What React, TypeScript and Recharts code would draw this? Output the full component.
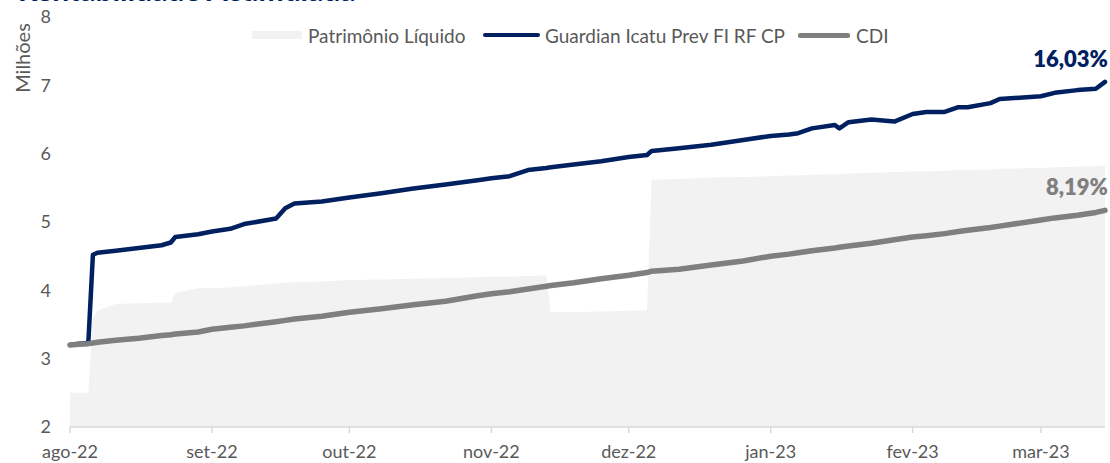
import React from "react";
import { ComposedChart, Area, Line, XAxis, YAxis } from "recharts";

// dias contados a partir de 01/08/2022
const days = [
  0, 2, 4, 5, 6, 10, 15, 20, 22, 23, 28, 31, 35, 38, 45, 47, 49, 55, 61, 68,
  75, 82, 89, 92, 96, 100, 104, 105, 110, 116, 122, 126, 127, 133, 140, 147,
  153, 157, 159, 162, 167, 168, 170, 175, 180, 184, 187, 191, 194, 196, 201,
  203, 212, 215, 220, 224, 226,
];

const guardian = [
  3.2, 3.22, 3.23, 4.52, 4.55, 4.58, 4.62, 4.66, 4.7, 4.78, 4.82, 4.86, 4.9,
  4.97, 5.05, 5.2, 5.27, 5.3, 5.36, 5.42, 5.49, 5.55, 5.61, 5.64, 5.67, 5.76,
  5.79, 5.8, 5.84, 5.89, 5.95, 5.98, 6.04, 6.08, 6.13, 6.2, 6.26, 6.28, 6.3,
  6.37, 6.42, 6.37, 6.46, 6.5, 6.47, 6.58, 6.61, 6.61, 6.68, 6.68, 6.74, 6.8,
  6.84, 6.89, 6.93, 6.95, 7.05,
];

const cdi = [
  3.2, 3.21, 3.22, 3.23, 3.24, 3.27, 3.3, 3.34, 3.35, 3.36, 3.39, 3.43, 3.46,
  3.48, 3.54, 3.56, 3.58, 3.62, 3.68, 3.73, 3.79, 3.84, 3.92, 3.95, 3.98, 4.02,
  4.06, 4.07, 4.11, 4.17, 4.22, 4.26, 4.28, 4.31, 4.37, 4.43, 4.5, 4.53, 4.55,
  4.58, 4.62, 4.63, 4.65, 4.69, 4.74, 4.78, 4.8, 4.83, 4.86, 4.88, 4.92, 4.94,
  5.03, 5.06, 5.1, 5.14, 5.17,
];

const patrimonio = [
  2.5, 2.5, 2.5, 3.6, 3.7, 3.8, 3.81, 3.82, 3.82, 3.96, 4.03, 4.03, 4.04, 4.06,
  4.1, 4.11, 4.12, 4.13, 4.15, 4.16, 4.17, 4.18, 4.19, 4.2, 4.2, 4.21, 4.22,
  3.68, 3.68, 3.69, 3.7, 3.71, 5.62, 5.63, 5.65, 5.66, 5.67, 5.68, 5.68, 5.69,
  5.7, 5.7, 5.71, 5.72, 5.73, 5.74, 5.74, 5.75, 5.76, 5.76, 5.77, 5.78, 5.79,
  5.8, 5.81, 5.82, 5.83,
];

const monthTicks = [0, 31, 61, 92, 122, 153, 184, 212];
const monthLabels = ["ago-22", "set-22", "out-22", "nov-22", "dez-22", "jan-23", "fev-23", "mar-23"];
const yTicks = [2, 3, 4, 5, 6, 7, 8];

const endLabels = { guardian: "16,03%", cdi: "8,19%" };

const data = days.map((d, i) => ({
  d,
  pl: patrimonio[i],
  guardian: guardian[i],
  cdi: cdi[i],
}));

const NAVY = "#002060";
const GRAY = "#7f7f7f";
const PL_FILL = "#f2f2f2";
const TEXT = "#595959";
const FONT = "Lato, 'Open Sans', sans-serif";

const makeEndLabel = (text: string, color: string) => (props: any) => {
  const { x, y, index } = props;
  if (index !== data.length - 1) return null;
  return (
    <text
      x={x + 3}
      y={y - 15}
      textAnchor="end"
      fill={color}
      fontSize={22}
      fontWeight={800}
      fontFamily={FONT}
    >
      {text}
    </text>
  );
};

function ChartLegend() {
  const item: React.CSSProperties = {
    position: "absolute",
    top: 0,
    display: "flex",
    alignItems: "center",
    whiteSpace: "nowrap",
    height: 22,
  };
  return (
    <div
      style={{
        position: "absolute",
        left: 0,
        top: 24,
        width: 1110,
        height: 22,
        fontFamily: FONT,
        fontSize: 19,
        color: TEXT,
      }}
    >
      <div style={{ ...item, left: 252 }}>
        <span style={{ width: 50, height: 8, background: PL_FILL, marginRight: 6 }} />
        Patrimônio Líquido
      </div>
      <div style={{ ...item, left: 483 }}>
        <span style={{ width: 57, height: 4, background: NAVY, borderRadius: 2, marginRight: 5 }} />
        Guardian Icatu Prev FI RF CP
      </div>
      <div style={{ ...item, left: 798 }}>
        <span style={{ width: 52, height: 5, background: GRAY, borderRadius: 2, marginRight: 6 }} />
        CDI
      </div>
    </div>
  );
}

export default function App() {
  return (
    <div
      style={{
        position: "absolute",
        left: 0,
        top: 0,
        width: 1110,
        height: 463,
        overflow: "hidden",
        background: "#fff",
        fontFamily: FONT,
      }}
    >
      <div
        style={{
          position: "absolute",
          left: 18,
          top: -26,
          fontSize: 30,
          lineHeight: "30px",
          fontWeight: 700,
          color: NAVY,
          whiteSpace: "nowrap",
        }}
      >
        Rentabilidade Acumulada
      </div>
      <div
        style={{
          position: "absolute",
          left: 22,
          top: 58,
          transform: "translate(-50%, -50%) rotate(-90deg)",
          fontSize: 20,
          color: TEXT,
          whiteSpace: "nowrap",
        }}
      >
        Milhões
      </div>
      <ComposedChart
        width={1110}
        height={463}
        data={data}
        margin={{ top: 17, right: 5, bottom: 0, left: 0 }}
      >
        <XAxis
          dataKey="d"
          type="number"
          domain={[0, 226]}
          ticks={monthTicks}
          tickFormatter={(v: number) => monthLabels[monthTicks.indexOf(v)]}
          height={36}
          axisLine={{ stroke: "#d9d9d9", strokeWidth: 1.5 }}
          tickLine={{ stroke: "#d9d9d9", strokeWidth: 1.5 }}
          tickSize={6}
          tickMargin={12}
          tick={{ fill: TEXT, fontSize: 18, fontFamily: FONT }}
          interval={0}
        />
        <YAxis
          type="number"
          domain={[2, 8]}
          ticks={yTicks}
          width={70}
          axisLine={false}
          tickLine={false}
          tickSize={0}
          tickMargin={19}
          tick={{ fill: TEXT, fontSize: 18, fontFamily: FONT }}
        />
        <Area
          type="linear"
          dataKey="pl"
          name="Patrimônio Líquido"
          stroke="none"
          fill={PL_FILL}
          fillOpacity={1}
          isAnimationActive={false}
        />
        <Line
          type="linear"
          dataKey="guardian"
          name="Guardian Icatu Prev FI RF CP"
          stroke={NAVY}
          strokeWidth={4.5}
          strokeLinecap="round"
          strokeLinejoin="round"
          dot={false}
          label={makeEndLabel(endLabels.guardian, NAVY)}
          isAnimationActive={false}
        />
        <Line
          type="linear"
          dataKey="cdi"
          name="CDI"
          stroke={GRAY}
          strokeWidth={5.5}
          strokeLinecap="round"
          strokeLinejoin="round"
          dot={false}
          label={makeEndLabel(endLabels.cdi, GRAY)}
          isAnimationActive={false}
        />
      </ComposedChart>
      <ChartLegend />
    </div>
  );
}
